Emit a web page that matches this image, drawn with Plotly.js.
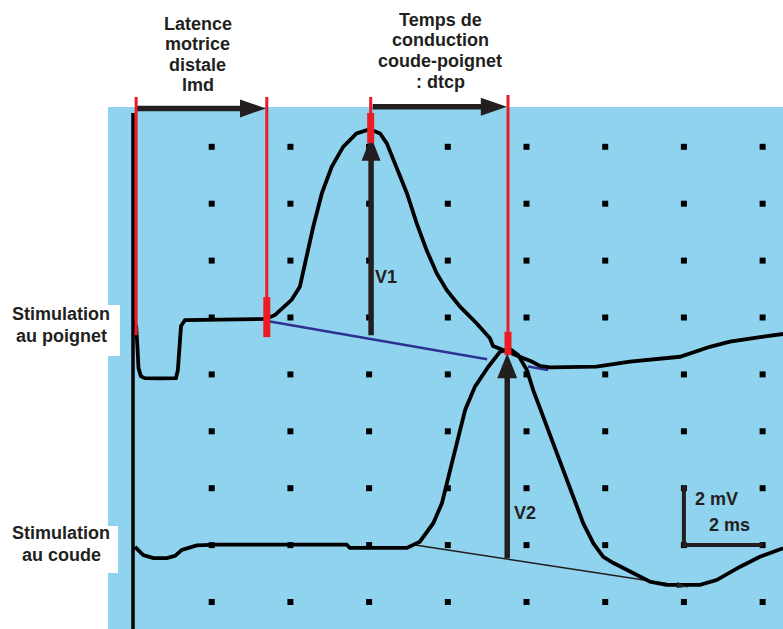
<!DOCTYPE html>
<html><head><meta charset="utf-8">
<script src="https://cdn.plot.ly/plotly-3.0.1.min.js"></script>
<style>html,body{margin:0;padding:0;background:#fff;} #chart{width:783px;height:629px;}</style>
</head><body><div id="chart"></div>
<script>
// Time in ms (0 = stimulus artifact), amplitude in mV (display offset units)
const poignetTime = [0.01, 0.08, 0.11, 0.14, 0.20, 0.30, 0.69, 1.09, 1.14, 1.18, 1.22, 1.32, 1.96, 2.72, 3.38, 3.61, 4.03, 4.24, 4.41, 4.58, 4.80, 5.05, 5.34, 5.68, 6.02, 6.28, 6.45, 6.70, 6.96, 7.21, 7.46, 7.72, 7.97, 8.31, 8.73, 9.07, 9.15, 10.13, 10.34, 10.60, 11.78, 12.63, 13.90, 14.66, 15.17, 16.02, 16.52];
const poignetMv   = [9.84, 9.70, 9.03, 8.22, 7.94, 7.87, 7.86, 7.87, 8.15, 9.03, 9.70, 9.91, 9.93, 9.93, 9.95, 10.09, 10.62, 11.08, 12.14, 13.19, 14.37, 15.30, 16.00, 16.47, 16.62, 16.47, 16.12, 15.30, 14.37, 13.31, 12.37, 11.55, 10.97, 10.38, 9.80, 9.27, 9.00, 8.45, 8.30, 8.25, 8.27, 8.45, 8.62, 8.97, 9.15, 9.33, 9.42];
const coudeTime = [0.05, 0.26, 0.52, 0.86, 1.07, 1.24, 1.62, 2.13, 5.43, 5.51, 6.96, 7.29, 7.63, 7.85, 8.06, 8.23, 8.44, 8.69, 9.03, 9.33, 9.58, 9.79, 10.01, 10.17, 10.43, 10.68, 10.94, 11.19, 11.44, 11.70, 11.95, 12.21, 12.71, 13.14, 13.56, 14.41, 14.83, 15.43, 15.93, 16.52];
const coudeMv   = [1.94, 1.65, 1.54, 1.54, 1.62, 1.83, 1.99, 2.02, 2.02, 1.90, 1.90, 2.12, 2.77, 3.47, 4.64, 5.58, 6.75, 7.57, 8.27, 8.80, 8.89, 8.68, 8.15, 7.45, 6.51, 5.58, 4.64, 3.70, 2.77, 2.06, 1.59, 1.37, 1.01, 0.71, 0.60, 0.60, 0.77, 1.24, 1.59, 1.89];
const baselineV1Time = [3.48, 9.00, null, 10.04, 10.55];
const baselineV1Mv   = [9.86, 8.53, null, 8.28, 8.15];
const baselineV2Time = [7.17, 14.10];
const baselineV2Mv   = [2.00, 0.54];
const cursorTimes = [0.08, 3.40, 6.04, 9.53];   // red cursors
const gridTimes = [2, 4, 6, 8, 10, 12, 14, 16];
const gridMv = [0, 2, 4, 6, 8, 10, 12, 14, 16];
const scaleMs = 2, scaleMv = 2;
const lmdLines = ['Latence', 'motrice', 'distale', 'lmd'];
const dtcpLines = ['Temps de', 'conduction', 'coude-poignet', ': dtcp'];
const sideLabels = [['Stimulation', 'au poignet'], ['Stimulation', 'au coude']];

// ---- layout geometry ----
const W = 783, H = 629;
const xr = [-3.380, 16.518], yr = [-0.949, 21.160];
const pxX = W / (xr[1] - xr[0]), pxY = H / (yr[1] - yr[0]);
const INK = '#231f20', RED = '#ed1c24', BLUE = '#8fd3ee';

const gx = [], gy = [];
gridTimes.forEach(t => gridMv.forEach(v => { gx.push(t); gy.push(v); }));

const shapes = [];
shapes.push({type:'rect', layer:'below', xref:'x', yref:'y', x0:-0.635, x1:xr[1]+0.1, y0:yr[0]-0.1, y1:17.40, fillcolor:BLUE, line:{width:0}});
// stimulus artifact
shapes.push({type:'line', xref:'x', yref:'y', x0:0, x1:0, y0:17.19, y1:yr[0]-0.1, line:{color:'#000', width:3.5}});

function arrow(x0, y0, x1, y1, w, hl, hw, color) {
  const dx = (x1 - x0) * pxX, dy = (y1 - y0) * pxY;
  const L = Math.hypot(dx, dy), ux = dx / L, uy = dy / L;
  const bx = x1 - ux * hl / pxX, by = y1 - uy * hl / pxY;
  const nx = -uy, ny = ux;
  const p1 = [bx + nx * hw / 2 / pxX, by + ny * hw / 2 / pxY];
  const p2 = [bx - nx * hw / 2 / pxX, by - ny * hw / 2 / pxY];
  const sx = x1 - ux * (hl - 2) / pxX, sy = y1 - uy * (hl - 2) / pxY;
  shapes.push({type:'line', xref:'x', yref:'y', x0:x0, y0:y0, x1:sx, y1:sy, line:{color:color, width:w}});
  shapes.push({type:'path', xref:'x', yref:'y', path:`M${x1},${y1} L${p1[0]},${p1[1]} L${p2[0]},${p2[1]} Z`, fillcolor:color, line:{width:0}});
}
arrow(0.10, 17.35, 3.38, 17.35, 5.5, 26, 18, INK);
arrow(6.09, 17.41, 9.50, 17.41, 5.5, 26, 18, INK);
arrow(6.05, 9.38, 6.05, 16.35, 5.5, 24, 19, INK);
arrow(9.51, 1.54, 9.51, 8.74, 5.5, 25, 20, INK);
// small arrowhead at end of V2 baseline
arrow(baselineV2Time[0], baselineV2Mv[0], baselineV2Time[1], baselineV2Mv[1], 0.1, 11, 6, INK);

// red cursors
const thin = [[17.75, 9.38], [17.75, 10.72], [17.75, 17.19], [17.82, 9.50]];
const thick = [null, [10.72, 9.31], [17.19, 16.13], [9.50, 8.68]];
cursorTimes.forEach((t, i) => {
  shapes.push({type:'line', xref:'x', yref:'y', x0:t, x1:t, y0:thin[i][0], y1:thin[i][1], line:{color:RED, width:3}});
  if (thick[i]) shapes.push({type:'line', xref:'x', yref:'y', x0:t, x1:t, y0:thick[i][0], y1:thick[i][1], line:{color:RED, width:7}});
});

// scale bar
shapes.push({type:'path', xref:'x', yref:'y', path:`M14.0,${2.0 + scaleMv * 1.04} L14.0,2.0 L${14.0 + scaleMs},2.0`, line:{color:INK, width:4}});

// white label boxes
shapes.push({type:'rect', xref:'x', yref:'y', x0:xr[0]-0.1, x1:(120-133)/pxX, y0:(602-356)/pxY, y1:(602-305)/pxY, fillcolor:'#fff', line:{width:0}});
shapes.push({type:'rect', xref:'x', yref:'y', x0:xr[0]-0.1, x1:(118-133)/pxX, y0:(602-573)/pxY, y1:(602-526)/pxY, fillcolor:'#fff', line:{width:0}});

const F = {family:'"Liberation Sans", Arial, sans-serif', size:18, color:INK};
const annotations = [];
function txt(text, x, y, xanchor, size) {
  annotations.push({text:'<b>' + text + '</b>', x:x, y:y, xref:'x', yref:'y', showarrow:false, xanchor:xanchor || 'center', yanchor:'middle', font:Object.assign({}, F, size ? {size:size} : {})});
}
const lmdY = [23.5, 44, 64.5, 85];
lmdLines.forEach((s, i) => txt(s, (197.5 - 133) / pxX, (602 - lmdY[i]) / pxY));
const dtcpY = [20.3, 40.3, 60.5, 81.5];
dtcpLines.forEach((s, i) => txt(s, (440 - 133) / pxX, (602 - dtcpY[i]) / pxY));
const sideY = [[313.5, 336], [533.3, 555]];
sideLabels.forEach((pair, j) => pair.forEach((s, i) => txt(s, (61 - 133) / pxX, (602 - sideY[j][i]) / pxY)));
txt('V1', 6.43, 11.42);
txt('V2', 9.97, 3.13);
txt('2 mV', 14.24, 3.61, 'left');
txt('2 ms', 14.59, 2.71, 'left');

const traces = [
  {x:gx, y:gy, type:'scatter', mode:'markers', marker:{color:'#000', size:6, symbol:'square'}, hoverinfo:'skip'},
  {x:baselineV1Time, y:baselineV1Mv, type:'scatter', mode:'lines', line:{color:'#2e3192', width:2.5}, connectgaps:false},
  {x:baselineV2Time, y:baselineV2Mv, type:'scatter', mode:'lines', line:{color:INK, width:1.5}},
  {x:poignetTime, y:poignetMv, type:'scatter', mode:'lines', line:{color:'#000', width:3.8}},
  {x:coudeTime, y:coudeMv, type:'scatter', mode:'lines', line:{color:'#000', width:3.8}}
];

const layout = {
  width:W, height:H, margin:{l:0, r:0, t:0, b:0},
  paper_bgcolor:'#fff', plot_bgcolor:'rgba(0,0,0,0)', showlegend:false,
  xaxis:{range:xr, visible:false, fixedrange:true},
  yaxis:{range:yr, visible:false, fixedrange:true},
  shapes:shapes, annotations:annotations
};
Plotly.newPlot('chart', traces, layout, {staticPlot:true, displayModeBar:false});
</script></body></html>
